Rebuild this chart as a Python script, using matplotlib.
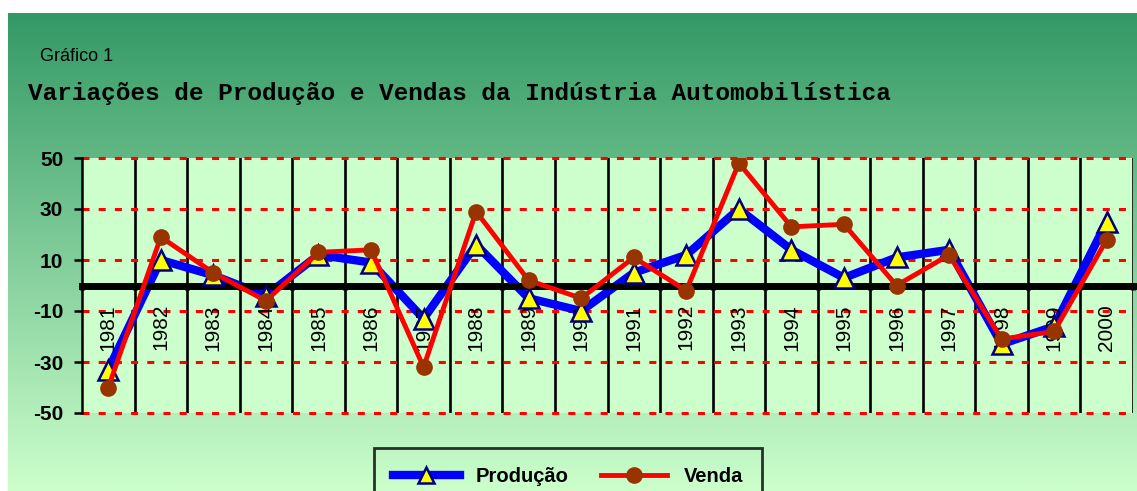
import matplotlib
matplotlib.use("Agg")
import matplotlib.pyplot as plt
import numpy as np
from matplotlib.lines import Line2D

years = ["1981", "1982", "1983", "1984", "1985", "1986", "1987", "1988", "1989", "1990",
         "1991", "1992", "1993", "1994", "1995", "1996", "1997", "1998", "1999", "2000"]
producao = [-33, 10, 4, -4, 12, 9, -13, 16, -5, -10, 5, 12, 30, 14, 3, 11, 14, -23, -16, 25]
venda = [-40, 19, 5, -6, 13, 14, -32, 29, 2, -5, 11, -2, 48, 23, 24, 0, 12, -21, -18, 18]
yticks = [-50, -30, -10, 10, 30, 50]

W, H = 1137, 491
fig = plt.figure(figsize=(W / 100, H / 100), dpi=100)
fig.patch.set_facecolor("white")

# gradient background
bg = fig.add_axes([8 / W, 0, 1 - 8 / W, 1 - 13 / H], zorder=0)
top = np.array([51, 153, 102]) / 255
bot = np.array([204, 255, 204]) / 255
t = np.linspace(0, 1, 256)[:, None]
grad = (top[None, :] * (1 - t) + bot[None, :] * t)[:, None, :]
bg.imshow(grad, aspect="auto", extent=[0, 1, 0, 1])
bg.set_axis_off()

ax = fig.add_axes([82 / W, 1 - 413 / H, (1133 - 82) / W, (413 - 158) / H], zorder=1)
ax.set_facecolor("#CCFFCC")
n = len(years)
x = np.arange(n) + 0.5
ax.set_xlim(0, n)
ax.set_ylim(-50, 50)

# vertical category separators
for b in range(1, n + 1):
    ax.axvline(b, color="black", lw=1.9, zorder=1)
# horizontal dashed red gridlines
for yv in yticks:
    ax.axhline(yv, color="#FF0000", lw=2.2, dashes=(2.3, 3.0), zorder=1.5, clip_on=False)

ax.plot(x, producao, color="#0000FF", lw=6, zorder=2, solid_capstyle="butt")
ax.plot(x, producao, ls="none", marker="^", ms=14, mfc="#FFFF00", mec="#000080", mew=1.8, zorder=2.7)
ax.plot(x, venda, color="#FF0000", lw=3.5, zorder=3)
ax.plot(x, venda, ls="none", marker="o", ms=11, mfc="#993300", mec="#993300", zorder=3.1)

for s in ["top", "right"]:
    ax.spines[s].set_visible(False)
ax.spines["bottom"].set_position(("data", 0))
ax.spines["bottom"].set_linewidth(5)
ax.spines["left"].set_linewidth(1.8)
ax.set_xticks(np.arange(0, n + 1))
ax.set_xticklabels([])
ax.tick_params(axis="x", direction="out", length=3, width=3.5, color="black")
ax.set_yticks(yticks)
ax.set_yticklabels([str(v) for v in yticks], fontsize=15, fontweight="bold", family="Liberation Sans")
ax.tick_params(axis="y", direction="out", length=6, width=1.8, pad=7.5)

for xi, lab in zip(x, years):
    ax.text(xi, -7.3, lab, rotation=90, ha="center", va="top", fontsize=15, family="Liberation Sans", zorder=2.6)

fig.text(40 / W, 1 - 61 / H, "Gráfico 1", fontsize=13, family="Liberation Sans", va="baseline", ha="left", zorder=5)
fig.text(28 / W, 1 - 100 / H, "Variações de Produção e Vendas da Indústria Automobilística",
         fontsize=17.6, family="Liberation Mono", fontweight="bold", va="baseline", ha="left", zorder=5)

handles = [
    Line2D([], [], color="#0000FF", lw=6, marker="^", ms=12, mfc="#FFFF00", mec="#000080", mew=1.8),
    Line2D([], [], color="#FF0000", lw=3.5, marker="o", ms=11, mfc="#993300", mec="#993300"),
]
leg = fig.legend(handles, ["Produção", "Venda"], loc="upper left",
                 bbox_to_anchor=(374 / W, 1 - 448 / H), borderaxespad=0, ncol=2, frameon=True,
                 fancybox=False, prop={"family": "Liberation Sans", "weight": "bold", "size": 14.5},
                 handlelength=3.3, columnspacing=1.6, borderpad=0.95, handletextpad=0.8, markerscale=1)
leg.get_frame().set_edgecolor("black")
leg.get_frame().set_linewidth(2)
leg.get_frame().set_facecolor("none")
leg.set_zorder(6)

fig.savefig("out.png", dpi=100)
